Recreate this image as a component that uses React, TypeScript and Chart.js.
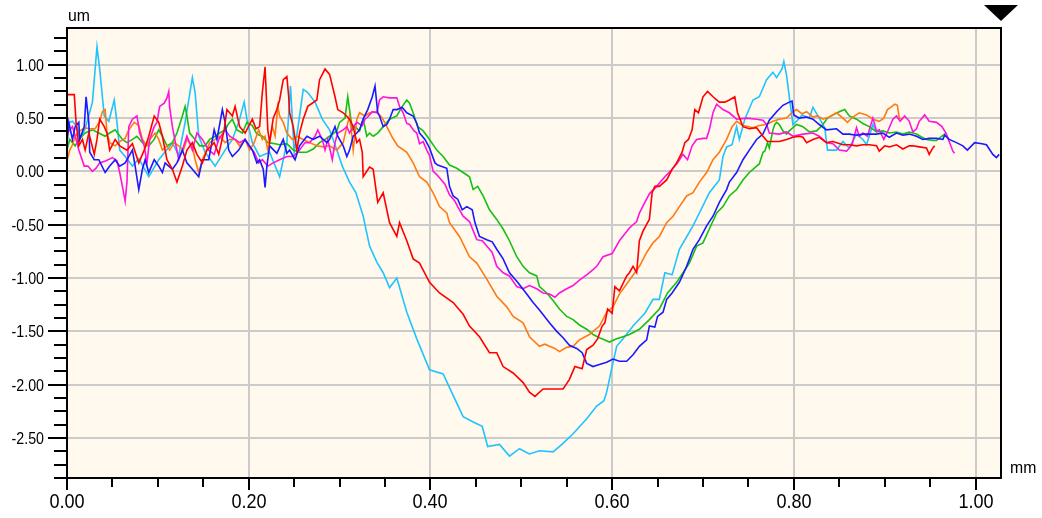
import { useEffect, useRef } from 'react';
import { Chart, registerables } from 'chart.js';

Chart.register(...registerables);

type P = [number, number];

// x in mm, y in um
const red: P[] = [[0,0.72],[0.003,0.72],[0.008,0.72],[0.010,0.46],[0.013,0.24],[0.017,0.30],[0.020,0.20],[0.024,0.36],[0.030,0.16],[0.033,0.30],[0.036,0.49],[0.041,0.42],[0.044,0.36],[0.047,0.20],[0.053,0.30],[0.058,0.24],[0.066,0.20],[0.072,0.26],[0.079,0.08],[0.085,0.20],[0.090,0.33],[0.096,0.52],[0.101,0.46],[0.105,0.33],[0.110,0.11],[0.116,0.02],[0.121,-0.10],[0.127,0.05],[0.132,0.20],[0.138,0.27],[0.143,0.16],[0.149,0.08],[0.154,0.20],[0.162,0.27],[0.167,0.16],[0.173,0.39],[0.176,0.58],[0.182,0.52],[0.185,0.61],[0.190,0.42],[0.196,0.36],[0.204,0.49],[0.208,0.40],[0.212,0.42],[0.215,0.74],[0.218,0.98],[0.221,0.39],[0.223,0.27],[0.227,0.50],[0.231,0.58],[0.234,0.67],[0.238,0.86],[0.242,0.89],[0.244,0.70],[0.245,0.55],[0.249,0.42],[0.253,0.20],[0.256,0.36],[0.260,0.49],[0.265,0.61],[0.275,0.67],[0.278,0.86],[0.284,0.96],[0.289,0.91],[0.295,0.70],[0.298,0.58],[0.304,0.55],[0.311,0.49],[0.315,0.42],[0.319,0.27],[0.322,0.30],[0.325,0.18],[0.326,-0.05],[0.333,0.04],[0.337,0.02],[0.342,-0.29],[0.348,-0.20],[0.355,-0.48],[0.363,-0.61],[0.366,-0.48],[0.374,-0.65],[0.381,-0.82],[0.388,-0.86],[0.399,-1.04],[0.410,-1.14],[0.425,-1.23],[0.436,-1.34],[0.443,-1.45],[0.454,-1.55],[0.465,-1.70],[0.473,-1.70],[0.480,-1.83],[0.491,-1.89],[0.502,-1.98],[0.509,-2.07],[0.515,-2.11],[0.524,-2.04],[0.535,-2.04],[0.546,-2.04],[0.553,-1.95],[0.559,-1.83],[0.567,-1.85],[0.572,-1.67],[0.579,-1.63],[0.584,-1.57],[0.589,-1.45],[0.592,-1.42],[0.595,-1.29],[0.600,-1.33],[0.603,-1.08],[0.608,-1.12],[0.616,-0.98],[0.619,-0.95],[0.623,-0.89],[0.627,-0.95],[0.630,-0.65],[0.634,-0.56],[0.639,-0.48],[0.641,-0.45],[0.644,-0.20],[0.647,-0.14],[0.652,-0.14],[0.660,-0.08],[0.666,0.02],[0.671,0.08],[0.677,0.18],[0.680,0.27],[0.684,0.30],[0.688,0.39],[0.691,0.58],[0.695,0.55],[0.700,0.70],[0.705,0.75],[0.711,0.70],[0.718,0.65],[0.724,0.65],[0.729,0.67],[0.735,0.70],[0.738,0.55],[0.744,0.42],[0.751,0.40],[0.759,0.41],[0.766,0.33],[0.771,0.28],[0.777,0.28],[0.784,0.28],[0.792,0.30],[0.799,0.32],[0.806,0.33],[0.810,0.32],[0.814,0.27],[0.821,0.30],[0.828,0.32],[0.836,0.27],[0.843,0.28],[0.854,0.25],[0.861,0.25],[0.869,0.24],[0.876,0.25],[0.883,0.25],[0.891,0.24],[0.894,0.19],[0.900,0.24],[0.905,0.23],[0.913,0.25],[0.920,0.21],[0.927,0.24],[0.931,0.24],[0.938,0.23],[0.946,0.22],[0.949,0.16],[0.953,0.22],[0.955,0.24]];

const blue: P[] = [[0,0.25],[0.002,0.46],[0.006,0.30],[0.009,0.42],[0.013,0.46],[0.014,0.30],[0.019,0.42],[0.021,0.70],[0.024,0.46],[0.025,0.18],[0.030,0.11],[0.035,0.11],[0.042,-0.01],[0.047,0.05],[0.053,0.11],[0.058,0.05],[0.064,0.08],[0.072,0.20],[0.075,0.05],[0.079,-0.17],[0.083,0.02],[0.086,0.11],[0.090,-0.01],[0.096,0.11],[0.101,0.05],[0.105,-0.01],[0.108,0.08],[0.116,0.02],[0.121,0.08],[0.127,0.20],[0.132,0.08],[0.138,0.02],[0.145,-0.05],[0.149,0.11],[0.156,0.11],[0.162,0.39],[0.165,0.30],[0.171,0.58],[0.174,0.46],[0.178,0.20],[0.182,0.14],[0.189,0.20],[0.196,0.30],[0.204,0.20],[0.209,0.08],[0.212,0.11],[0.216,0.02],[0.218,-0.15],[0.220,0.05],[0.223,0.24],[0.231,0.17],[0.238,0.30],[0.242,0.17],[0.245,0.20],[0.251,0.11],[0.256,0.24],[0.264,0.33],[0.271,0.30],[0.278,0.33],[0.286,0.27],[0.289,0.30],[0.295,0.42],[0.298,0.33],[0.304,0.24],[0.308,0.14],[0.311,0.20],[0.315,0.33],[0.319,0.36],[0.322,0.39],[0.326,0.49],[0.331,0.58],[0.336,0.70],[0.339,0.80],[0.342,0.55],[0.344,0.52],[0.348,0.42],[0.352,0.44],[0.355,0.49],[0.359,0.58],[0.363,0.58],[0.369,0.60],[0.374,0.55],[0.381,0.52],[0.385,0.45],[0.388,0.36],[0.394,0.30],[0.399,0.22],[0.405,0.08],[0.408,0.06],[0.418,0.03],[0.421,-0.14],[0.425,-0.23],[0.430,-0.26],[0.435,-0.36],[0.440,-0.33],[0.446,-0.36],[0.449,-0.48],[0.454,-0.61],[0.462,-0.64],[0.468,-0.66],[0.473,-0.73],[0.480,-0.82],[0.487,-0.95],[0.496,-1.04],[0.506,-1.15],[0.513,-1.23],[0.520,-1.30],[0.531,-1.42],[0.539,-1.50],[0.546,-1.56],[0.553,-1.63],[0.561,-1.66],[0.567,-1.70],[0.572,-1.80],[0.579,-1.83],[0.586,-1.81],[0.594,-1.79],[0.601,-1.76],[0.608,-1.78],[0.616,-1.78],[0.623,-1.72],[0.630,-1.64],[0.638,-1.58],[0.641,-1.45],[0.647,-1.46],[0.650,-1.36],[0.656,-1.32],[0.660,-1.20],[0.666,-1.14],[0.674,-1.04],[0.682,-0.89],[0.689,-0.73],[0.696,-0.64],[0.704,-0.51],[0.711,-0.42],[0.718,-0.29],[0.726,-0.17],[0.729,-0.10],[0.737,-0.01],[0.744,0.11],[0.751,0.20],[0.759,0.30],[0.766,0.35],[0.773,0.48],[0.781,0.56],[0.788,0.62],[0.795,0.65],[0.798,0.66],[0.800,0.53],[0.806,0.50],[0.814,0.51],[0.821,0.49],[0.828,0.44],[0.836,0.39],[0.847,0.40],[0.854,0.35],[0.861,0.35],[0.869,0.34],[0.876,0.35],[0.883,0.35],[0.891,0.35],[0.898,0.36],[0.905,0.32],[0.913,0.36],[0.920,0.34],[0.927,0.35],[0.935,0.33],[0.942,0.30],[0.949,0.31],[0.957,0.31],[0.964,0.30],[0.966,0.34],[0.971,0.30],[0.979,0.27],[0.986,0.24],[0.991,0.20],[0.999,0.27],[1.007,0.26],[1.012,0.25],[1.019,0.16],[1.023,0.13],[1.026,0.16]];

const magenta: P[] = [[0,0.35],[0.003,0.39],[0.006,0.42],[0.010,0.30],[0.013,0.20],[0.019,0.05],[0.023,0.05],[0.028,0.00],[0.032,0.03],[0.036,0.08],[0.043,0.10],[0.050,0.13],[0.055,0.10],[0.058,-0.01],[0.061,-0.14],[0.064,-0.28],[0.066,-0.10],[0.068,0.42],[0.072,0.49],[0.077,0.52],[0.080,0.36],[0.085,0.24],[0.088,0.08],[0.091,0.30],[0.096,0.42],[0.099,0.46],[0.102,0.61],[0.107,0.64],[0.110,0.69],[0.112,0.75],[0.113,0.60],[0.116,0.42],[0.120,0.24],[0.123,0.11],[0.127,0.20],[0.132,0.33],[0.138,0.20],[0.143,0.36],[0.149,0.30],[0.156,0.20],[0.162,0.16],[0.167,0.30],[0.174,0.39],[0.179,0.33],[0.185,0.30],[0.190,0.27],[0.196,0.30],[0.200,0.24],[0.206,0.18],[0.211,0.08],[0.215,0.11],[0.221,0.05],[0.227,0.08],[0.234,0.11],[0.242,0.14],[0.249,0.14],[0.256,0.20],[0.262,0.27],[0.267,0.27],[0.273,0.33],[0.276,0.39],[0.281,0.30],[0.284,0.20],[0.287,0.30],[0.292,0.11],[0.295,0.27],[0.298,0.36],[0.304,0.39],[0.308,0.42],[0.311,0.36],[0.315,0.42],[0.319,0.46],[0.325,0.43],[0.328,0.49],[0.331,0.51],[0.336,0.56],[0.341,0.55],[0.344,0.67],[0.348,0.70],[0.355,0.69],[0.363,0.69],[0.366,0.61],[0.370,0.55],[0.374,0.45],[0.377,0.44],[0.382,0.38],[0.385,0.36],[0.388,0.26],[0.392,0.28],[0.396,0.20],[0.399,0.15],[0.403,0.00],[0.407,-0.03],[0.410,-0.06],[0.416,-0.12],[0.421,-0.22],[0.427,-0.28],[0.430,-0.33],[0.436,-0.42],[0.443,-0.47],[0.451,-0.64],[0.457,-0.65],[0.462,-0.70],[0.468,-0.76],[0.473,-0.89],[0.480,-0.95],[0.487,-0.98],[0.495,-1.08],[0.502,-1.10],[0.509,-1.07],[0.517,-1.10],[0.524,-1.14],[0.531,-1.15],[0.537,-1.18],[0.542,-1.14],[0.550,-1.10],[0.557,-1.07],[0.564,-1.02],[0.572,-0.97],[0.579,-0.92],[0.583,-0.89],[0.590,-0.80],[0.600,-0.77],[0.608,-0.65],[0.619,-0.53],[0.627,-0.47],[0.630,-0.39],[0.636,-0.29],[0.641,-0.21],[0.649,-0.14],[0.658,-0.05],[0.666,0.02],[0.672,0.08],[0.678,0.16],[0.683,0.11],[0.688,0.24],[0.693,0.30],[0.700,0.31],[0.704,0.31],[0.707,0.39],[0.711,0.55],[0.715,0.63],[0.722,0.58],[0.729,0.55],[0.737,0.49],[0.748,0.50],[0.759,0.49],[0.766,0.48],[0.770,0.44],[0.773,0.36],[0.784,0.35],[0.792,0.37],[0.799,0.33],[0.810,0.35],[0.821,0.36],[0.828,0.33],[0.836,0.27],[0.843,0.26],[0.850,0.20],[0.858,0.19],[0.864,0.25],[0.869,0.41],[0.872,0.33],[0.876,0.36],[0.881,0.33],[0.887,0.50],[0.891,0.38],[0.894,0.39],[0.899,0.30],[0.903,0.37],[0.909,0.49],[0.913,0.52],[0.917,0.47],[0.922,0.52],[0.927,0.47],[0.931,0.37],[0.935,0.40],[0.938,0.47],[0.944,0.53],[0.949,0.47],[0.957,0.46],[0.963,0.42],[0.968,0.35],[0.971,0.28],[0.975,0.19],[0.977,0.17]];

const orange: P[] = [[0,0.10],[0.003,0.20],[0.006,0.25],[0.009,0.33],[0.014,0.38],[0.020,0.41],[0.024,0.40],[0.031,0.40],[0.036,0.47],[0.039,0.56],[0.042,0.58],[0.044,0.36],[0.047,0.27],[0.053,0.24],[0.058,0.28],[0.064,0.31],[0.068,0.39],[0.074,0.46],[0.079,0.43],[0.083,0.30],[0.088,0.24],[0.091,0.30],[0.097,0.36],[0.101,0.30],[0.105,0.20],[0.110,0.24],[0.113,0.20],[0.118,0.27],[0.123,0.24],[0.128,0.20],[0.132,0.30],[0.138,0.24],[0.141,0.11],[0.145,-0.01],[0.149,0.11],[0.152,0.17],[0.157,0.27],[0.163,0.30],[0.168,0.33],[0.174,0.27],[0.179,0.30],[0.185,0.30],[0.190,0.24],[0.196,0.30],[0.201,0.20],[0.206,0.27],[0.211,0.39],[0.215,0.30],[0.218,0.33],[0.221,0.20],[0.226,0.42],[0.229,0.33],[0.232,0.61],[0.234,0.52],[0.238,0.46],[0.242,0.36],[0.248,0.30],[0.253,0.33],[0.260,0.30],[0.267,0.27],[0.275,0.24],[0.282,0.23],[0.289,0.24],[0.297,0.20],[0.304,0.27],[0.308,0.42],[0.311,0.52],[0.314,0.30],[0.315,0.20],[0.319,0.49],[0.322,0.55],[0.328,0.52],[0.333,0.55],[0.341,0.56],[0.347,0.50],[0.352,0.42],[0.358,0.32],[0.364,0.24],[0.374,0.18],[0.381,0.08],[0.388,-0.05],[0.396,-0.10],[0.403,-0.20],[0.410,-0.33],[0.418,-0.39],[0.421,-0.48],[0.432,-0.61],[0.443,-0.80],[0.451,-0.86],[0.462,-1.01],[0.473,-1.17],[0.484,-1.27],[0.491,-1.36],[0.502,-1.42],[0.509,-1.55],[0.520,-1.64],[0.526,-1.62],[0.531,-1.64],[0.537,-1.66],[0.542,-1.69],[0.550,-1.65],[0.557,-1.64],[0.564,-1.58],[0.575,-1.53],[0.586,-1.45],[0.594,-1.32],[0.601,-1.27],[0.608,-1.15],[0.619,-1.02],[0.630,-0.89],[0.638,-0.76],[0.645,-0.67],[0.652,-0.61],[0.660,-0.48],[0.667,-0.42],[0.674,-0.33],[0.682,-0.23],[0.689,-0.20],[0.696,-0.10],[0.704,-0.01],[0.711,0.11],[0.718,0.18],[0.726,0.30],[0.732,0.42],[0.737,0.47],[0.744,0.43],[0.755,0.41],[0.762,0.43],[0.770,0.44],[0.777,0.47],[0.784,0.49],[0.792,0.50],[0.799,0.56],[0.803,0.58],[0.809,0.54],[0.814,0.56],[0.821,0.51],[0.826,0.52],[0.832,0.49],[0.839,0.51],[0.847,0.55],[0.854,0.50],[0.859,0.46],[0.865,0.51],[0.872,0.55],[0.880,0.53],[0.887,0.49],[0.894,0.47],[0.899,0.50],[0.903,0.58],[0.908,0.61],[0.911,0.63],[0.914,0.62],[0.916,0.50],[0.920,0.49]];

const green: P[] = [[0,0.20],[0.003,0.30],[0.009,0.24],[0.013,0.30],[0.020,0.36],[0.028,0.39],[0.035,0.36],[0.042,0.33],[0.047,0.36],[0.053,0.39],[0.061,0.30],[0.066,0.27],[0.072,0.30],[0.077,0.33],[0.083,0.27],[0.090,0.24],[0.096,0.30],[0.101,0.39],[0.105,0.33],[0.110,0.24],[0.116,0.27],[0.121,0.36],[0.127,0.52],[0.130,0.61],[0.132,0.52],[0.135,0.36],[0.141,0.30],[0.146,0.24],[0.152,0.24],[0.157,0.30],[0.163,0.33],[0.168,0.36],[0.174,0.39],[0.178,0.45],[0.182,0.49],[0.187,0.39],[0.193,0.36],[0.198,0.46],[0.204,0.43],[0.209,0.35],[0.215,0.33],[0.221,0.27],[0.229,0.26],[0.234,0.25],[0.242,0.26],[0.249,0.20],[0.256,0.18],[0.264,0.18],[0.271,0.21],[0.278,0.27],[0.284,0.30],[0.289,0.33],[0.297,0.38],[0.300,0.46],[0.306,0.50],[0.309,0.70],[0.311,0.58],[0.314,0.39],[0.317,0.42],[0.322,0.38],[0.326,0.49],[0.330,0.33],[0.333,0.36],[0.337,0.33],[0.342,0.36],[0.348,0.42],[0.355,0.49],[0.363,0.52],[0.369,0.61],[0.374,0.67],[0.377,0.64],[0.381,0.55],[0.386,0.42],[0.392,0.38],[0.399,0.30],[0.407,0.20],[0.414,0.14],[0.421,0.06],[0.429,0.03],[0.436,-0.01],[0.443,-0.05],[0.447,-0.17],[0.452,-0.14],[0.458,-0.23],[0.465,-0.36],[0.473,-0.45],[0.480,-0.54],[0.487,-0.65],[0.495,-0.80],[0.502,-0.89],[0.509,-0.95],[0.517,-0.98],[0.520,-1.08],[0.528,-1.14],[0.535,-1.21],[0.542,-1.29],[0.550,-1.36],[0.557,-1.39],[0.564,-1.44],[0.572,-1.48],[0.579,-1.53],[0.586,-1.56],[0.592,-1.58],[0.597,-1.60],[0.605,-1.57],[0.612,-1.55],[0.619,-1.53],[0.630,-1.48],[0.641,-1.39],[0.652,-1.29],[0.661,-1.14],[0.671,-1.04],[0.678,-0.95],[0.685,-0.86],[0.693,-0.70],[0.700,-0.67],[0.707,-0.54],[0.715,-0.39],[0.722,-0.33],[0.729,-0.23],[0.737,-0.17],[0.744,-0.08],[0.751,-0.01],[0.759,0.05],[0.762,0.07],[0.766,0.18],[0.768,0.19],[0.771,0.27],[0.773,0.22],[0.777,0.39],[0.779,0.44],[0.781,0.46],[0.784,0.44],[0.788,0.38],[0.792,0.35],[0.795,0.38],[0.803,0.44],[0.810,0.42],[0.817,0.37],[0.825,0.38],[0.832,0.44],[0.837,0.50],[0.843,0.53],[0.850,0.56],[0.856,0.58],[0.861,0.52],[0.869,0.49],[0.876,0.45],[0.883,0.42],[0.891,0.37],[0.898,0.38],[0.905,0.36],[0.913,0.37],[0.920,0.35],[0.927,0.37],[0.935,0.35],[0.941,0.32],[0.946,0.30],[0.953,0.29],[0.957,0.29],[0.963,0.33],[0.966,0.35],[0.968,0.36]];

const cyan: P[] = [[0,0.45],[0.006,0.47],[0.011,0.42],[0.014,0.30],[0.020,0.40],[0.028,0.65],[0.033,1.17],[0.036,0.96],[0.041,0.52],[0.046,0.47],[0.052,0.67],[0.055,0.46],[0.058,0.20],[0.064,0.14],[0.072,0.05],[0.079,0.12],[0.090,-0.05],[0.101,0.11],[0.116,0.27],[0.123,0.15],[0.130,0.46],[0.138,0.88],[0.141,0.74],[0.145,0.33],[0.152,0.18],[0.163,0.05],[0.174,0.20],[0.182,0.30],[0.189,0.46],[0.195,0.65],[0.198,0.49],[0.204,0.27],[0.212,0.14],[0.223,0.18],[0.234,-0.05],[0.242,0.27],[0.246,0.80],[0.250,0.18],[0.254,0.40],[0.260,0.77],[0.265,0.74],[0.273,0.65],[0.281,0.49],[0.289,0.39],[0.297,0.20],[0.303,0.05],[0.311,-0.10],[0.318,-0.20],[0.326,-0.42],[0.333,-0.70],[0.341,-0.85],[0.348,-0.95],[0.355,-1.09],[0.363,-1.00],[0.374,-1.32],[0.385,-1.57],[0.399,-1.86],[0.414,-1.90],[0.425,-2.10],[0.436,-2.30],[0.447,-2.35],[0.457,-2.39],[0.463,-2.58],[0.476,-2.56],[0.487,-2.67],[0.498,-2.60],[0.509,-2.65],[0.520,-2.62],[0.535,-2.63],[0.546,-2.55],[0.557,-2.46],[0.572,-2.32],[0.583,-2.20],[0.591,-2.15],[0.594,-2.07],[0.600,-1.83],[0.605,-1.64],[0.612,-1.57],[0.623,-1.45],[0.636,-1.33],[0.645,-1.20],[0.652,-1.20],[0.658,-0.95],[0.666,-0.97],[0.674,-0.73],[0.689,-0.51],[0.696,-0.39],[0.707,-0.20],[0.718,-0.08],[0.722,0.14],[0.726,0.23],[0.732,0.25],[0.737,0.42],[0.740,0.30],[0.746,0.49],[0.755,0.67],[0.762,0.70],[0.770,0.86],[0.777,0.93],[0.781,0.88],[0.787,0.96],[0.789,1.03],[0.792,0.90],[0.795,0.70],[0.799,0.44],[0.804,0.48],[0.809,0.53],[0.817,0.50],[0.821,0.60],[0.828,0.50],[0.834,0.41],[0.837,0.20],[0.847,0.20],[0.854,0.28],[0.861,0.22],[0.869,0.35],[0.876,0.30],[0.880,0.25],[0.887,0.44],[0.890,0.38]];

// first series is drawn on top
const SERIES: { name: string; color: string; data: P[] }[] = [
  { name: 'red', color: '#ff0000', data: red },
  { name: 'blue', color: '#1a1aff', data: blue },
  { name: 'magenta', color: '#ff14dc', data: magenta },
  { name: 'orange', color: '#ff7a14', data: orange },
  { name: 'green', color: '#14c014', data: green },
  { name: 'cyan', color: '#1ec4ff', data: cyan },
];

const X_MIN = 0;
const X_MAX = 1.028;
const X_STEP = 0.05;
const X_LABEL_EVERY = 0.2;
const Y_MIN = -2.875;
const Y_MAX = 1.345;
const Y_STEP = 0.125;
const Y_LABEL_EVERY = 0.5;
const X_UNIT = 'mm';
const Y_UNIT = 'um';

const FONT = '"Liberation Sans", Arial, sans-serif';

const isMultiple = (v: number, m: number) => Math.abs(v / m - Math.round(v / m)) < 1e-6;

// draws text squeezed horizontally to imitate the narrow original font
function narrowText(ctx: CanvasRenderingContext2D, text: string, x: number, y: number, align: 'left' | 'right' | 'center', squeeze: number) {
  ctx.save();
  ctx.translate(x, y);
  ctx.scale(squeeze, 1);
  ctx.textAlign = align;
  ctx.textBaseline = 'alphabetic';
  ctx.fillText(text, 0, 0);
  ctx.restore();
}

const decor = {
  id: 'decor',
  beforeDraw(chart: any) {
    const { ctx, chartArea: a, width, height } = chart;
    ctx.save();
    ctx.fillStyle = '#ffffff';
    ctx.fillRect(0, 0, width, height);
    ctx.fillStyle = '#fff9ee';
    ctx.fillRect(a.left, a.top, a.right - a.left, a.bottom - a.top);
    ctx.restore();
  },
  beforeDatasetsDraw(chart: any) {
    const { ctx, chartArea: a } = chart;
    const xs = chart.scales.x;
    const ys = chart.scales.y;
    ctx.save();
    ctx.fillStyle = '#cbcbcb';
    xs.ticks.forEach((t: any) => {
      if (!isMultiple(t.value, X_LABEL_EVERY) || t.value <= X_MIN) return;
      const px = Math.round(xs.getPixelForValue(t.value));
      ctx.fillRect(px - 1, a.top, 2, a.bottom - a.top);
    });
    ys.ticks.forEach((t: any) => {
      if (!isMultiple(t.value, Y_LABEL_EVERY)) return;
      const py = Math.round(ys.getPixelForValue(t.value));
      ctx.fillRect(a.left, py - 1, a.right - a.left, 2);
    });
    ctx.restore();
  },
  afterDatasetsDraw(chart: any) {
    const { ctx, chartArea: a } = chart;
    const xs = chart.scales.x;
    const ys = chart.scales.y;
    ctx.save();
    ctx.strokeStyle = '#000';
    ctx.lineWidth = 2;
    ctx.strokeRect(a.left, a.top, a.right - a.left, a.bottom - a.top);
    ctx.fillStyle = '#000';
    ctx.font = `16px ${FONT}`;
    ys.ticks.forEach((t: any) => {
      const py = Math.round(ys.getPixelForValue(t.value));
      const major = isMultiple(t.value, Y_LABEL_EVERY);
      const len = major ? 19 : 13;
      ctx.fillRect(a.left - len, py - 1, len, 2);
      if (major) narrowText(ctx, Number(t.value).toFixed(2), a.left - 23, py + 6, 'right', 0.89);
    });
    ctx.font = `21px ${FONT}`;
    xs.ticks.forEach((t: any) => {
      const px = Math.round(xs.getPixelForValue(t.value));
      const major = isMultiple(t.value, X_LABEL_EVERY);
      const len = major ? 12 : 9;
      ctx.fillRect(px - 1, a.bottom, 2, len);
      if (major) narrowText(ctx, Number(t.value).toFixed(2), px, a.bottom + 30, 'center', 0.86);
    });
    // marker triangle at the right end of the x axis
    const cx = a.right;
    ctx.beginPath();
    ctx.moveTo(cx - 17, 5);
    ctx.lineTo(cx + 17, 5);
    ctx.lineTo(cx, 21);
    ctx.closePath();
    ctx.fill();
    // units
    ctx.font = `17px ${FONT}`;
    narrowText(ctx, Y_UNIT, a.left + 1, 21, 'left', 0.93);
    narrowText(ctx, X_UNIT, a.right + 9, 473, 'left', 0.93);
    ctx.restore();
  },
};

export default function App() {
  const ref = useRef<HTMLCanvasElement | null>(null);
  useEffect(() => {
    if (!ref.current) return;
    const chart = new Chart(ref.current, {
      type: 'line',
      data: {
        datasets: SERIES.map((s) => ({
          label: s.name,
          data: s.data.map(([x, y]) => ({ x, y })),
          borderColor: s.color,
          backgroundColor: s.color,
          borderWidth: 1.6,
          pointRadius: 0,
          tension: 0,
          fill: false,
        })),
      },
      options: {
        animation: false,
        responsive: false,
        devicePixelRatio: 1,
        events: [],
        layout: { padding: { left: 0, top: 28, right: 41, bottom: 0 } },
        plugins: { legend: { display: false }, tooltip: { enabled: false } },
        scales: {
          x: {
            type: 'linear',
            min: X_MIN,
            max: X_MAX,
            grid: { display: false, drawTicks: false },
            border: { display: false },
            afterFit: (s: any) => { s.height = 40; s.paddingLeft = 0; s.paddingRight = 0; },
            ticks: {
              display: false,
              stepSize: X_STEP,
              includeBounds: false,
              autoSkip: false,
              maxRotation: 0,
            },
          },
          y: {
            type: 'linear',
            min: Y_MIN,
            max: Y_MAX,
            grid: { display: false, drawTicks: false },
            border: { display: false },
            afterFit: (s: any) => { s.width = 67; s.paddingTop = 0; s.paddingBottom = 0; },
            ticks: {
              display: false,
              stepSize: Y_STEP,
              includeBounds: false,
              autoSkip: false,
            },
          },
        },
      },
      plugins: [decor],
    });
    return () => chart.destroy();
  }, []);
  return (
    <div style={{ position: 'fixed', left: 0, top: 0, width: 1042, height: 518, background: '#fff' }}>
      <canvas ref={ref} width={1042} height={518} style={{ display: 'block' }} />
    </div>
  );
}
